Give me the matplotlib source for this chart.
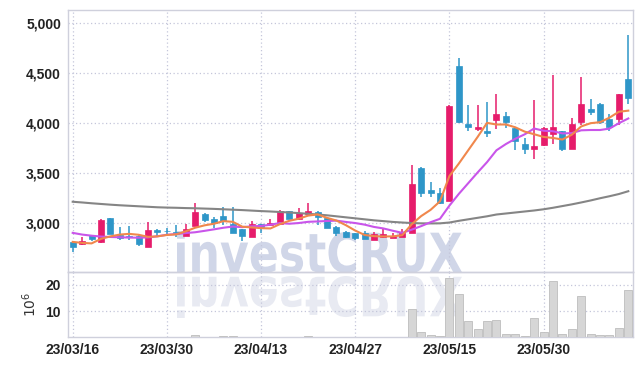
import matplotlib
matplotlib.use("Agg")
import matplotlib.pyplot as plt
import matplotlib.transforms as mtransforms
from matplotlib.textpath import TextPath
from matplotlib.patches import PathPatch
from matplotlib.font_manager import FontProperties

# 일봉 데이터 (23/03/16 ~ 23/06/13, 60 거래일)
opens = [2810, 2795, 2880, 2810, 3050, 2885, 2875, 2875, 2765, 2935,
         2925, 2915, 2875, 2975, 3095, 3040, 3075, 2995, 2945, 2865,
         2995, 2985, 2990, 3120, 3040, 3095, 3115, 3050, 2960, 2915,
         2900, 2900, 2835, 2865, 2850, 2865, 2905, 3555, 3330, 3300,
         3225, 4565, 3990, 3945, 3920, 4025, 4070, 3950, 3790, 3740,
         3780, 3895, 3920, 3745, 4005, 4140, 4190, 4040, 4040, 4435]
highs = [2825, 2865, 2885, 3045, 3055, 2965, 2970, 2885, 3010, 2940,
         2955, 2985, 2995, 3200, 3105, 3065, 3165, 3165, 2945, 3025,
         2995, 3040, 3130, 3125, 3150, 3205, 3120, 3065, 2975, 2920,
         2905, 2925, 2910, 2940, 2905, 2940, 3580, 3560, 3410, 3350,
         4175, 4645, 4180, 4180, 4205, 4285, 4105, 3950, 3855, 4230,
         3960, 4475, 3925, 4050, 4460, 4240, 4195, 4085, 4290, 4875]
lows = [2710, 2785, 2825, 2805, 2890, 2835, 2835, 2775, 2765, 2865,
        2885, 2865, 2875, 2975, 3015, 2955, 2985, 2900, 2825, 2860,
        2905, 2975, 2985, 3040, 3035, 3090, 2985, 2950, 2875, 2850,
        2835, 2845, 2835, 2850, 2850, 2865, 2905, 3260, 3265, 3195,
        3225, 3995, 3920, 3920, 3865, 3940, 3950, 3730, 3695, 3640,
        3770, 3795, 3720, 3745, 3980, 4080, 3985, 3920, 3980, 4185]
closes = [2765, 2825, 2840, 3035, 2890, 2850, 2860, 2795, 2935, 2915,
          2920, 2895, 2945, 3115, 3035, 3000, 3025, 2905, 2875, 2995,
          2965, 3005, 3120, 3040, 3100, 3120, 3065, 2950, 2905, 2865,
          2850, 2845, 2895, 2890, 2875, 2905, 3390, 3300, 3300, 3200,
          4170, 4010, 3960, 3960, 3905, 4085, 4010, 3825, 3745, 3775,
          3950, 3960, 3740, 3990, 4190, 4110, 4010, 3960, 4285, 4245]
volumes = [0.2, 0.2, 0.2, 0.2, 0.2, 0.2, 0.2, 0.2, 0.2, 0.2,
           0.2, 0.2, 0.2, 1.0, 0.2, 0.2, 0.6, 0.6, 0.2, 0.2,
           0.2, 0.2, 0.2, 0.2, 0.2, 0.6, 0.2, 0.2, 0.2, 0.2,
           0.2, 0.2, 0.2, 0.2, 0.2, 0.2, 10.8, 2.1, 1.0, 0.6,
           22.4, 16.4, 6.2, 3.2, 6.2, 6.6, 1.35, 1.35, 0.6, 7.6,
           2.1, 21.3, 1.35, 3.5, 15.6, 1.35, 1.0, 1.0, 3.6, 17.9]
ma5 = [2815, 2805, 2800, 2845, 2870, 2888, 2895, 2886, 2865, 2870,
       2884, 2890, 2920, 2956, 2980, 2996, 3022, 3015, 2967, 2959,
       2952, 2949, 2992, 3025, 3046, 3077, 3089, 3055, 3028, 2982,
       2928, 2884, 2872, 2869, 2870, 2882, 2991, 3072, 3134, 3219,
       3471, 3595, 3728, 3861, 4001, 3985, 3985, 3957, 3914, 3888,
       3861, 3851, 3835, 3883, 3966, 3998, 4008, 4053, 4112, 4123]
ma10 = [2905, 2888, 2877, 2868, 2864, 2861, 2858, 2857, 2860, 2871,
        2886, 2893, 2903, 2911, 2925, 2940, 2956, 2968, 2962, 2970,
        2974, 2986, 3003, 2996, 3003, 3015, 3019, 3023, 3027, 3014,
        3003, 2987, 2964, 2949, 2926, 2905, 2937, 2972, 3011, 3045,
        3176, 3293, 3400, 3507, 3610, 3728, 3790, 3843, 3887, 3945,
        3923, 3918, 3896, 3899, 3927, 3930, 3930, 3944, 3998, 4045]
ma_long = [3215, 3208, 3200, 3193, 3186, 3180, 3175, 3170, 3165, 3160,
           3157, 3155, 3152, 3150, 3147, 3144, 3140, 3136, 3132, 3127,
           3122, 3118, 3113, 3108, 3102, 3095, 3088, 3080, 3070, 3060,
           3050, 3040, 3030, 3022, 3014, 3008, 3003, 3000, 2999, 3000,
           3008, 3025, 3040, 3055, 3070, 3088, 3098, 3108, 3118, 3128,
           3140, 3155, 3172, 3189, 3208, 3228, 3250, 3270, 3292, 3320]
tick_pos = [0, 10, 20, 30, 40, 50]
tick_labels = ["23/03/16", "23/03/30", "23/04/13", "23/04/27", "23/05/15", "23/05/30"]

UP = "#e61c6b"
DOWN = "#2e96c8"
GRID = "#c4c6da"
SPINE = "#cfd0dc"

plt.rcParams["font.family"] = ["Liberation Sans", "DejaVu Sans"]

W, H = 642, 366
fig = plt.figure(figsize=(W / 100, H / 100), dpi=100)
fig.patch.set_facecolor("white")

ax = fig.add_axes([68 / W, 1 - 272 / H, (633 - 68) / W, (272 - 10) / H])
axv = fig.add_axes([68 / W, 1 - 337 / H, (633 - 68) / W, (337 - 272) / H], sharex=ax)

x = list(range(len(closes)))

# 캔들
for i in x:
    o, c = opens[i], closes[i]
    col = UP if c >= o else DOWN
    ax.vlines(i, lows[i], highs[i], color=col, lw=1.1, zorder=3)
    ax.bar(i, max(abs(c - o), 8), bottom=min(o, c), width=0.64, color=col,
           edgecolor=col, lw=0.5, zorder=4)

ax.plot(x, ma_long, color="#858585", lw=1.5, zorder=5)
ax.plot(x, ma10, color="#c955ea", lw=1.5, zorder=5)
ax.plot(x, ma5, color="#f0874c", lw=1.5, zorder=5)

ax.set_ylim(2515, 5126)
ax.set_yticks([3000, 3500, 4000, 4500, 5000])
ax.set_yticklabels(["3,000", "3,500", "4,000", "4,500", "5,000"])
ax.set_xlim(-0.5, 59.5)

# 거래량
axv.bar(x, volumes, width=0.85, color="#d6d6d6", edgecolor="#bdbdbd", lw=0.6, zorder=3)
axv.set_ylim(0.3, 24.8)
axv.set_yticks([10, 20])
axv.set_xticks(tick_pos)
axv.set_xticklabels(tick_labels)
axv.set_ylabel("$10^6$", fontsize=10, color="#333333", labelpad=5)

for a in (ax, axv):
    a.set_facecolor("none")
    a.grid(True, color=GRID, ls=(0, (1, 2)), lw=0.9)
    a.set_axisbelow(True)
    a.tick_params(length=0, labelsize=10, labelcolor="#222222", pad=5)
    for s in a.spines.values():
        s.set_color(SPINE)
        s.set_linewidth(1.0)
    for lab in a.get_yticklabels() + a.get_xticklabels():
        lab.set_fontweight("bold")
plt.setp(ax.get_xticklabels(), visible=False)
axv.tick_params(axis="x", pad=4)

# 워터마크
tp = TextPath((0, 0), "investCRUX", size=100,
              prop=FontProperties(family="DejaVu Sans", weight="bold"))
bb = tp.get_extents()
sx = (462 - 177) / bb.width
sy = (273 - 231) / bb.height
to_fig = mtransforms.Affine2D().scale(1 / 100) + fig.dpi_scale_trans
tr_main = mtransforms.Affine2D().translate(-bb.x0, -bb.y0).scale(sx, sy).translate(177, H - 273) + to_fig
tr_refl = mtransforms.Affine2D().translate(-bb.x0, -bb.y0).scale(sx, -sy).translate(177, H - 276) + to_fig
fig.add_artist(PathPatch(tp, transform=tr_refl, facecolor="#e8eaf2", edgecolor="none", zorder=-1))
fig.add_artist(PathPatch(tp, transform=tr_main, facecolor="#d0d6e8", edgecolor="none", zorder=-1))

plt.savefig("out.png", dpi=100)
